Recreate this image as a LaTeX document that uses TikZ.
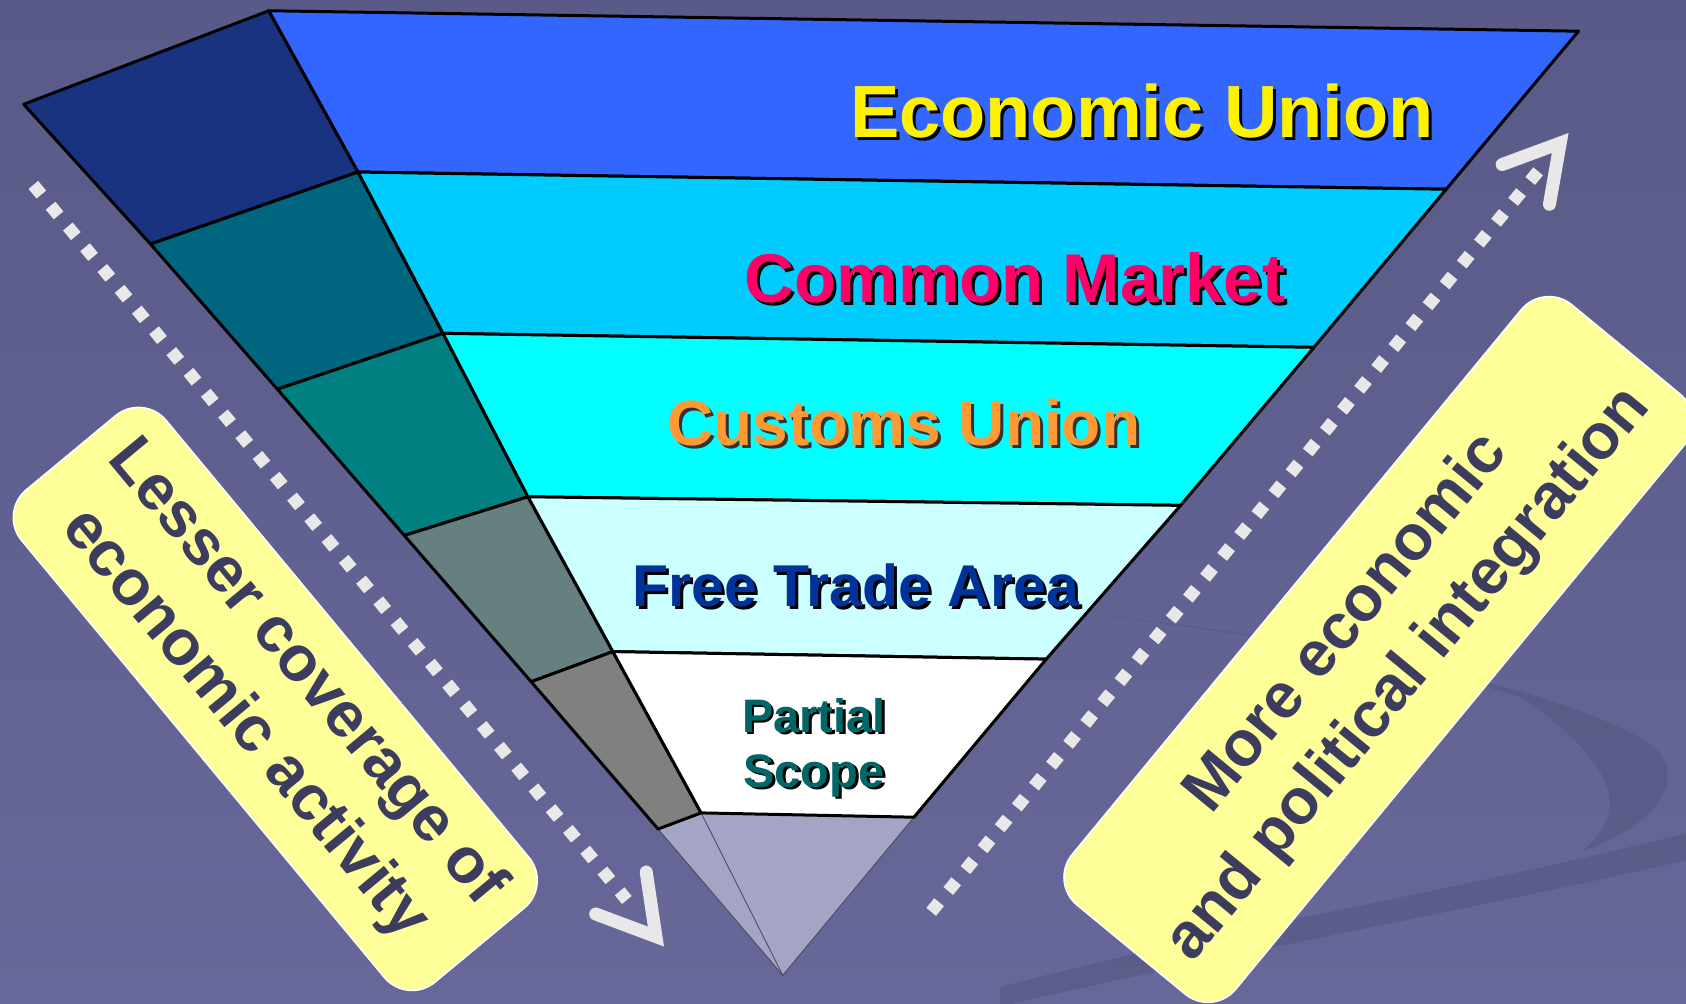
\documentclass[tikz,border=0pt]{standalone}
\usepackage{fontspec}
\setmainfont{Liberation Sans}
\definecolor{bgtop}{RGB}{90,90,136}
\definecolor{bgbot}{RGB}{103,103,153}
\definecolor{swoosh}{RGB}{84,84,126}
\definecolor{sideA}{RGB}{26,51,128}
\definecolor{sideB}{RGB}{0,102,128}
\definecolor{sideC}{RGB}{0,128,128}
\definecolor{sideD}{RGB}{102,128,128}
\definecolor{sideE}{RGB}{128,128,128}
\definecolor{frontA}{RGB}{51,102,255}
\definecolor{frontB}{RGB}{0,204,255}
\definecolor{frontC}{RGB}{0,255,255}
\definecolor{frontD}{RGB}{204,255,255}
\definecolor{frontE}{RGB}{255,255,255}
\definecolor{tri}{RGB}{164,164,196}
\definecolor{triedge}{RGB}{70,70,90}
\definecolor{dotc}{RGB}{232,232,232}
\definecolor{boxfill}{RGB}{255,255,153}
\definecolor{boxtext}{RGB}{60,60,95}
\definecolor{cmred}{RGB}{255,0,102}
\definecolor{cuorange}{RGB}{255,153,51}
\definecolor{ftblue}{RGB}{0,51,153}
\definecolor{psteal}{RGB}{0,102,102}
\begin{document}
\begin{tikzpicture}[x=1.0753pt,y=-1.0753pt,
  edge/.style={draw=black,line width=3pt,line join=round},
  dotline/.style={draw=dotc,line width=12.5pt,dash pattern=on 12.5pt off 14.5pt},
  chev/.style={draw=dotc,line width=13pt,line cap=round,line join=miter},
  lab/.style={anchor=base,inner sep=0pt},
  sidebox/.style={fill=boxfill,draw=white,line width=1.5pt,rounded corners=36pt,
    inner sep=0pt,align=center,text=boxtext,
    font=\fontsize{64}{80}\selectfont\bfseries}]
\useasboundingbox (0,0) rectangle (1568,933);
\shade[top color=bgtop,bottom color=bgbot] (0,0) rectangle (1568,933);
% background swooshes
\fill[swoosh,opacity=0.5] (1028,573) .. controls (1250,600) and (1450,640) .. (1532,690)
  .. controls (1565,712) and (1560,760) .. (1471,792)
  .. controls (1510,760) and (1515,720) .. (1418,650)
  .. controls (1300,610) and (1150,585) .. cycle;
\fill[swoosh,opacity=0.5] (930,918) .. controls (1150,860) and (1350,830) .. (1568,775)
  -- (1568,800) .. controls (1350,850) and (1150,885) .. (930,936) -- cycle;
% geometry
\coordinate (S0) at (22,97);   \coordinate (F0) at (250,10);  \coordinate (R0) at (1468,29);
\coordinate (S1) at (140,227); \coordinate (F1) at (333,160); \coordinate (R1) at (1345,176);
\coordinate (S2) at (258,362); \coordinate (F2) at (412,310); \coordinate (R2) at (1222,323);
\coordinate (S3) at (376,498); \coordinate (F3) at (491,462); \coordinate (R3) at (1098,470);
\coordinate (S4) at (494,634); \coordinate (F4) at (570,606); \coordinate (R4) at (973,613);
\coordinate (S5) at (612,771); \coordinate (F5) at (652,756); \coordinate (R5) at (850,760);
\coordinate (apex) at (728,907);
% translucent bottom
\filldraw[fill=tri,draw=triedge,line width=0.8pt] (S5) -- (F5) -- (R5) -- (apex) -- cycle;
\draw[triedge,line width=0.8pt] (F5) -- (apex);
% side face
\filldraw[edge,fill=sideA] (S0) -- (F0) -- (F1) -- (S1) -- cycle;
\filldraw[edge,fill=sideB] (S1) -- (F1) -- (F2) -- (S2) -- cycle;
\filldraw[edge,fill=sideC] (S2) -- (F2) -- (F3) -- (S3) -- cycle;
\filldraw[edge,fill=sideD] (S3) -- (F3) -- (F4) -- (S4) -- cycle;
\filldraw[edge,fill=sideE] (S4) -- (F4) -- (F5) -- (S5) -- cycle;
% front face
\filldraw[edge,fill=frontA] (F0) -- (R0) -- (R1) -- (F1) -- cycle;
\filldraw[edge,fill=frontB] (F1) -- (R1) -- (R2) -- (F2) -- cycle;
\filldraw[edge,fill=frontC] (F2) -- (R2) -- (R3) -- (F3) -- cycle;
\filldraw[edge,fill=frontD] (F3) -- (R3) -- (R4) -- (F4) -- cycle;
\filldraw[edge,fill=frontE] (F4) -- (R4) -- (R5) -- (F5) -- cycle;
% labels with shadows
\node[lab,text=black,font=\fontsize{74}{80}\selectfont\bfseries] (euS) at (1064.8,130.8) {Economic Union};
\node[lab,text=yellow,font=\fontsize{74}{80}\selectfont\bfseries] (eu) at (1062,128) {Economic Union};
\node[lab,text=black,font=\fontsize{69}{80}\selectfont\bfseries] (cmS) at (946.8,283.8) {Common Market};
\node[lab,text=cmred,font=\fontsize{69}{80}\selectfont\bfseries] (cm) at (944,281) {Common Market};
\node[lab,text=black!80,font=\fontsize{64}{80}\selectfont\bfseries] (cuS) at (843.3,416.8) {Customs Union};
\node[lab,text=cuorange,font=\fontsize{64}{80}\selectfont\bfseries] (cu) at (840.5,414) {Customs Union};
\node[lab,text=black,font=\fontsize{59}{70}\selectfont\bfseries] (ftS) at (798.8,566.8) {Free Trade Area};
\node[lab,text=ftblue,font=\fontsize{59}{70}\selectfont\bfseries] (ft) at (796,564) {Free Trade Area};
\node[lab,text=black,font=\fontsize{47}{55}\selectfont\bfseries] (ps1S) at (759.5,683.5) {Partial};
\node[lab,text=psteal,font=\fontsize{47}{55}\selectfont\bfseries] (ps1) at (757,681) {Partial};
\node[lab,text=black,font=\fontsize{47}{55}\selectfont\bfseries] (ps2S) at (759.5,734.5) {Scope};
\node[lab,text=psteal,font=\fontsize{47}{55}\selectfont\bfseries] (ps2) at (757,732) {Scope};
% dotted arrows
\coordinate (ldA) at (31,172);  \coordinate (ldB) at (583,837);
\coordinate (lcA) at (554,850); \coordinate (lcT) at (610,871); \coordinate (lcB) at (601,811);
\draw[dotline] (ldA) -- (ldB);
\draw[chev] (lcA) -- (lcT) -- (lcB);
\coordinate (rdA) at (866,848);  \coordinate (rdB) at (1434,155);
\coordinate (rcA) at (1397,153); \coordinate (rcT) at (1451,133); \coordinate (rcB) at (1441,190);
\draw[dotline] (rdA) -- (rdB);
\draw[chev] (rcA) -- (rcT) -- (rcB);
% side boxes
\node[sidebox,rotate=-50.3,minimum width=640pt,minimum height=188pt] (lbox) at (256,650)
  {Lesser coverage of\\economic activity};
\node[sidebox,rotate=50.5,minimum width=778pt,minimum height=212pt] (rbox) at (1282,604)
  {More economic\\and political integration};
\end{tikzpicture}
\end{document}
